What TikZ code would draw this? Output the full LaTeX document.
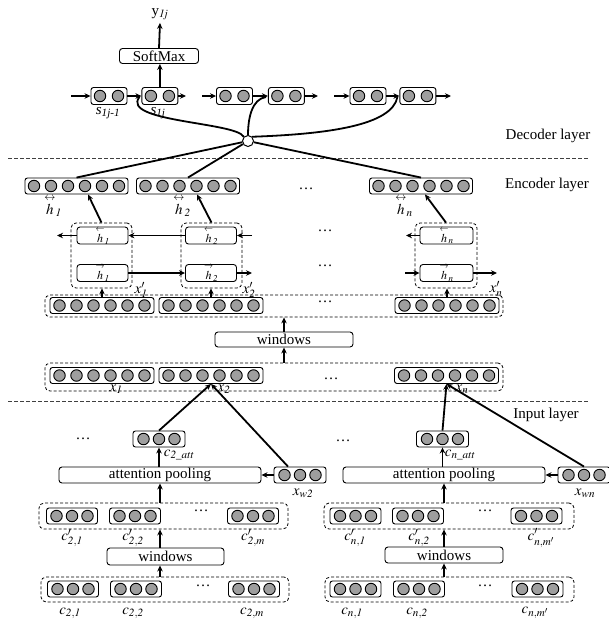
\documentclass[tikz,border=0pt]{standalone}
\usepackage{amsmath}
\usepackage{mathptmx}
\usepackage{fontspec}
\setmainfont{Liberation Serif}
\usetikzlibrary{positioning,arrows.meta,calc}

% a vector of grey cells in a rounded box: name, options, cells, pitch, width
\newcommand{\vecbox}[5]{%
  \node[vec, minimum width=#5pt, #2] (#1) {};
  \foreach \k in {1,...,#3}
    \node[cell] at ($(#1.center)+({(\k-(#3+1)/2)*#4},0)$) {};
}
% hidden states with a small arrow on top
\newcommand{\hl}{\overset{\scriptstyle\leftarrow}{h}}
\newcommand{\hr}{\overset{\scriptstyle\rightarrow}{h}}
\newcommand{\hlr}{\overset{\scriptstyle\leftrightarrow}{h}}

\begin{document}
\begin{tikzpicture}[x=1pt, y=-1pt,
  every node/.style={font=\fontsize{15}{18}\selectfont},
  vec/.style={draw, rounded corners=2.5pt, line width=0.9pt, minimum height=16pt, inner sep=0pt},
  cell/.style={circle, draw, fill=black!38, line width=0.9pt, minimum size=11.5pt, inner sep=0pt},
  grp/.style={draw, dash pattern=on 3pt off 2pt, rounded corners=5pt, line width=0.8pt, inner sep=0pt},
  op/.style={draw, rounded corners=3pt, line width=0.9pt, minimum height=16pt, inner sep=0pt},
  hid/.style={op, minimum width=51pt, minimum height=15pt, font=\fontsize{12}{13}\selectfont},
  lbl/.style={inner sep=0pt},
  arr/.style={-{Stealth[length=6pt,width=5.5pt]}, line width=1.8pt},
  conn/.style={line width=1.8pt},
  sep/.style={dash pattern=on 4pt off 2pt, line width=0.8pt, black!75}
]
\useasboundingbox (0,0) rectangle (608,621);

% decoder
\node[op, minimum width=79pt, minimum height=15pt] (sm) at (159,56) {SoftMax};
\node[lbl] (ylab) at (160,14) {y$_{\mathit{1j}}$};
\vecbox{d1}{at={(109,96)}, minimum height=17pt}{2}{18}{36}
\vecbox{d2}{right=14pt of d1, minimum height=17pt}{2}{18}{36}
\vecbox{d3}{at={(234.5,96)}, minimum height=17pt}{2}{18}{36}
\vecbox{d4}{right=15pt of d3, minimum height=17pt}{2}{18}{36}
\vecbox{d5}{at={(368,96)}, minimum height=17pt}{2}{18}{36}
\vecbox{d6}{right=13pt of d5, minimum height=17pt}{2}{18}{36}
\node[lbl] at (108,113) {\textit{s}\textsubscript{\textit{1j-1}}};
\node[lbl] at (158,113) {\textit{s}\textsubscript{\textit{1j}}};
\coordinate (din1) at (71,96);
\coordinate (dout2) at (186,96);
\coordinate (din3) at (202,96);
\coordinate (dout4) at (318,96);
\coordinate (din5) at (334,96);
\coordinate (dout6) at (451,96);
\draw[arr] (din1) -- (d1.west);
\draw[arr] (d1.east) -- (d2.west);
\draw[arr] (d2.east) -- (dout2);
\draw[arr] (din3) -- (d3.west);
\draw[arr] (d3.east) -- (d4.west);
\draw[arr] (d4.east) -- (dout4);
\draw[arr] (din5) -- (d5.west);
\draw[arr] (d5.east) -- (d6.west);
\draw[arr] (d6.east) -- (dout6);
\draw[arr] (d2.north) -- (d2.north |- sm.south);
\draw[arr] (sm.north) -- ($(ylab.south)+(0,3)$);
\node[lbl] at (548,136) {Decoder layer};
\draw[sep] (8,158) -- (588,158);

% encoder
\node[lbl] at (547,185) {Encoder layer};
\vecbox{h1}{at={(76.5,186)}}{6}{17}{103}
\vecbox{h2}{at={(188,186)}}{6}{17}{103}
\vecbox{hn}{at={(421,186)}}{6}{17}{103}
\node[lbl] at (53,206) {$\hlr_{\mathit{1}}$};
\node[lbl] at (182,206) {$\hlr_{\mathit{2}}$};
\node[lbl] at (404,206) {$\hlr_{n}$};
\node[lbl] at (306,189) {\ldots};

\node[circle, draw, fill=white, line width=1pt, minimum size=11pt, inner sep=0pt] (att) at (248,141) {};
\draw[conn] (att) -- (h1.north);
\draw[conn] (att) -- (h2.north);
\draw[conn] (att) -- (hn.north);
\draw[conn] (att.north west) .. controls (236,122) and (120,122) .. ($(d2.west)+(-2,1)$);
\draw[conn] (att.north) .. controls (248,118) and (252,99) .. ($(d4.west)+(-2,1)$);
\draw[conn] (att.north east) .. controls (330,134) and (392,125) .. ($(d6.west)+(-2,1)$);

\node[grp, minimum width=61pt, minimum height=65pt] (bl1) at (101.5,255.5) {};
\node[grp, minimum width=61pt, minimum height=65pt] (bl2) at (211.5,255.5) {};
\node[grp, minimum width=62pt, minimum height=65pt] (bln) at (446,255.5) {};
\node[hid] (bh1) at (102.5,235.5) {$\hl_{\mathit{1}}$};
\node[hid] (fh1) at (102.5,273) {$\hr_{\mathit{1}}$};
\node[hid] (bh2) at (211,235.5) {$\hl_{\mathit{2}}$};
\node[hid] (fh2) at (211,273) {$\hr_{\mathit{2}}$};
\node[hid, minimum width=53pt] (bhn) at (446.5,235.5) {$\hl_{n}$};
\node[hid, minimum width=53pt] (fhn) at (446.5,273) {$\hr_{n}$};
\node[lbl] at (325,231) {\ldots};
\node[lbl] at (325,266) {\ldots};
\coordinate (bout1) at (57,235.5);
\coordinate (bin2) at (252,235.5);
\coordinate (boutn) at (406,235.5);
\coordinate (fout2) at (252,273);
\coordinate (finn) at (405,273);
\coordinate (foutn) at (497,273);
\draw[arr] (bh2.west) -- (bh1.east);
\draw[arr] (bh1.west) -- (bout1);
\draw[arr] (bin2) -- (bh2.east);
\draw[arr] (bhn.west) -- (boutn);
\draw[arr] (fh1.east) -- (fh2.west);
\draw[arr] (fh2.east) -- (fout2);
\draw[arr] (finn) -- (fhn.west);
\draw[arr] (fhn.east) -- (foutn);
\draw[arr] (bl1.north) -- ($(h1.south)+(11.5,0)$);
\draw[arr] (bl2.north) -- ($(h2.south)+(9,0)$);
\draw[arr] (bln.north) -- ($(hn.south)+(4,0)$);

% x' row
\node[grp, minimum width=458pt, minimum height=22pt] (xpg) at (274,306) {};
\vecbox{xp1}{at={(102,305.5)}}{6}{17}{104}
\vecbox{xp2}{at={(211,305.5)}}{6}{17}{104}
\vecbox{xpn}{at={(447,305.5)}}{6}{17}{104}
\node[lbl] at (141,290) {$x'_{\mathit{1}}$};
\node[lbl] at (249,290) {$x'_{\mathit{2}}$};
\node[lbl] at (496,289) {$x'_{n}$};
\node[lbl] at (325,302) {\ldots};
\draw[arr] (xp1.north) -- (xp1.north |- bl1.south);
\draw[arr] (xp2.north) -- (xp2.north |- bl2.south);
\draw[arr] (xpn.north) -- (xpn.north |- bln.south);

\node[op, minimum width=138pt, minimum height=15pt] (win) at (284,339.5) {windows};
\draw[arr] (win.north) -- (win.north |- xpg.south);

% x row
\node[grp, minimum width=458pt, minimum height=28pt] (xg) at (274,377) {};
\vecbox{x1}{at={(102,375.5)}}{6}{17}{104}
\vecbox{x2}{at={(211,375.5)}}{6}{17}{104}
\vecbox{xn}{at={(446.5,375.5)}}{6}{17}{104}
\node[lbl] at (116,389) {$x_{\mathit{1}}$};
\node[lbl] at (224,389) {$x_{\mathit{2}}$};
\node[lbl] at (462,389) {$x_{n}$};
\node[lbl] at (331,379) {\ldots};
\draw[arr] (win.south |- xg.north) -- (win.south);
\draw[sep] (8,401) -- (588,401);
\node[lbl] at (546,415) {Input layer};

% input, word 2
\node[lbl] at (83,439) {\ldots};
\vecbox{ca2}{at={(159,439)}}{3}{15.5}{52}
\node[lbl] at (179,455) {$c_{\mathit{2\_att}}$};
\node[op, minimum width=202pt] (ap2) at (160,475) {attention pooling};
\vecbox{xw2}{at={(300,475)}}{3}{15.5}{52}
\node[lbl] at (303,493) {$x_{\mathit{w2}}$};
\node[grp, minimum width=249pt, minimum height=26pt] (cpg2) at (163.5,516) {};
\vecbox{cp21}{at={(72,516)}}{3}{15.5}{51}
\vecbox{cp22}{at={(135,516)}}{3}{15.5}{51}
\vecbox{cp2m}{at={(253,516)}}{3}{15.5}{51}
\node[lbl] at (201,511) {\ldots};
\node[lbl] at (72,538) {$c'_{\mathit{2,1}}$};
\node[lbl] at (133,538) {$c'_{\mathit{2,2}}$};
\node[lbl] at (253,538) {$c'_{\mathit{2,m}}$};
\node[op, minimum width=117pt, minimum height=17pt] (win2) at (165.5,556.5) {windows};
\node[grp, minimum width=248pt, minimum height=25pt] (cg2) at (165,589.5) {};
\vecbox{c21}{at={(73,589)}}{3}{15.5}{51}
\vecbox{c22}{at={(136,589)}}{3}{15.5}{51}
\vecbox{c2m}{at={(254,589)}}{3}{15.5}{51}
\node[lbl] at (203,586) {\ldots};
\node[lbl] at (70,613) {$c_{\mathit{2,1}}$};
\node[lbl] at (133,613) {$c_{\mathit{2,2}}$};
\node[lbl] at (252,613) {$c_{\mathit{2,m}}$};
\draw[arr] (ca2.north) -- (x2.south);
\draw[arr] ($(xw2.north)+(-12,0)$) -- (x2.south);
\draw[arr] (ap2.north -| ca2) -- (ca2.south);
\draw[arr] (xw2.west) -- (ap2.east);
\draw[arr] (cpg2.north -| ap2) -- (ap2.south);
\draw[arr] (win2.north -| ap2) -- (cpg2.south -| ap2);
\draw[arr] (cg2.north -| ap2) -- (win2.south -| ap2);

% input, word n
\node[lbl] at (343,441) {\ldots};
\vecbox{can}{at={(442.5,439)}}{3}{15.5}{52}
\node[lbl] at (460,455) {$c_{\mathit{n\_att}}$};
\node[op, minimum width=202pt] (apn) at (444,475) {attention pooling};
\vecbox{xwn}{at={(584,475)}}{3}{15.5}{52}
\node[lbl] at (585,493) {$x_{\mathit{wn}}$};
\node[grp, minimum width=250pt, minimum height=26pt] (cpgn) at (449,516) {};
\vecbox{cpn1}{at={(355.5,516)}}{3}{15.5}{51}
\vecbox{cpn2}{at={(418,516)}}{3}{15.5}{51}
\vecbox{cpnm}{at={(536.5,516)}}{3}{15.5}{51}
\node[lbl] at (485,511) {\ldots};
\node[lbl] at (355,538) {$c'_{\mathit{n,1}}$};
\node[lbl] at (419,538) {$c'_{\mathit{n,2}}$};
\node[lbl] at (541,538) {$c'_{\mathit{n,m'}}$};
\node[op, minimum width=118pt] (winn) at (444,555) {windows};
\node[grp, minimum width=249pt, minimum height=25pt] (cgn) at (449.5,589.5) {};
\vecbox{cn1}{at={(355.5,589)}}{3}{15.5}{51}
\vecbox{cn2}{at={(419,589)}}{3}{15.5}{51}
\vecbox{cnm}{at={(537.5,589)}}{3}{15.5}{51}
\node[lbl] at (485,586) {\ldots};
\node[lbl] at (352,613) {$c_{\mathit{n,1}}$};
\node[lbl] at (417,613) {$c_{\mathit{n,2}}$};
\node[lbl] at (535,613) {$c_{\mathit{n,m'}}$};
\draw[arr] (can.north) -- (xn.south);
\draw[arr] (xwn.north) -- (xn.south);
\draw[arr] (apn.north -| can) -- (can.south);
\draw[arr] (xwn.west) -- (apn.east);
\draw[arr] (cpgn.north -| apn) -- (apn.south);
\draw[arr] (winn.north -| apn) -- (cpgn.south -| apn);
\draw[arr] (cgn.north -| apn) -- (winn.south -| apn);
\end{tikzpicture}
\end{document}
